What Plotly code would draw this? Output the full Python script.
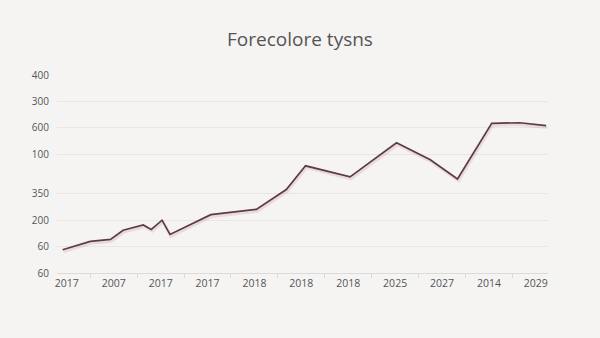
import plotly.graph_objects as go

# Tick labels as printed on the chart
x_tick_labels = ["2017", "2007", "2017", "2017", "2018", "2018", "2018", "2025", "2027", "2014", "2029"]
x_tick_positions = list(range(len(x_tick_labels)))
x_minor_ticks = [i + 0.5 for i in range(len(x_tick_labels) - 1)]

y_tick_labels = ["60", "60", "200", "350", "100", "600", "300", "400"]
y_tick_positions = [0, 1, 2, 3, 4.5, 5.5, 6.5, 7.5]

# Series (positions in axis units)
series_x = [-0.09, 0.50, 0.93, 1.20, 1.63, 1.80, 2.03, 2.20, 3.07, 4.04, 4.68,
            5.09, 6.04, 7.03, 7.75, 8.33, 9.06, 9.66, 10.22]
series_y = [0.88, 1.20, 1.27, 1.62, 1.82, 1.65, 2.00, 1.46, 2.21, 2.41, 3.16,
            4.06, 3.64, 4.93, 4.29, 3.56, 5.67, 5.69, 5.58]

shadow_dx = 0.02
shadow_dy = -0.07

bg = "#f6f4f3"
fig = go.Figure()
fig.add_trace(go.Scatter(
    x=[v + shadow_dx for v in series_x], y=[v + shadow_dy for v in series_y],
    mode="lines", line=dict(color="rgba(214,168,176,0.35)", width=3),
    hoverinfo="skip", showlegend=False))
fig.add_trace(go.Scatter(
    x=series_x, y=series_y, mode="lines",
    line=dict(color="#5b3c45", width=1.7), showlegend=False))

fig.update_layout(
    width=600, height=338,
    margin=dict(l=57, r=52, t=75, b=65),
    paper_bgcolor=bg, plot_bgcolor=bg,
    title=dict(text="Forecolore tysns", x=0.5, xanchor="center",
               y=0.885, yref="container", yanchor="middle",
               font=dict(family="Open Sans", size=19, color="#555353")),
    font=dict(family="Open Sans", color="#555", size=10),
)
fig.update_xaxes(
    range=[-0.21, 10.26], tickvals=x_tick_positions, ticktext=x_tick_labels,
    showgrid=False, zeroline=False, showline=True, linecolor="#dedad8", linewidth=1,
    ticks="", tickfont=dict(size=10.5, color="#555"),
    minor=dict(tickvals=x_minor_ticks, ticks="outside", ticklen=4,
               tickcolor="#dedad8", showgrid=False),
)
fig.update_yaxes(
    range=[0, 7.5], tickvals=y_tick_positions, ticktext=y_tick_labels,
    showgrid=True, gridcolor="#e8e5e3", gridwidth=1, zeroline=False,
    showline=False, ticks="", ticklabelstandoff=7,
    tickfont=dict(size=10, color="#555"),
)
fig.write_html("out.html")
